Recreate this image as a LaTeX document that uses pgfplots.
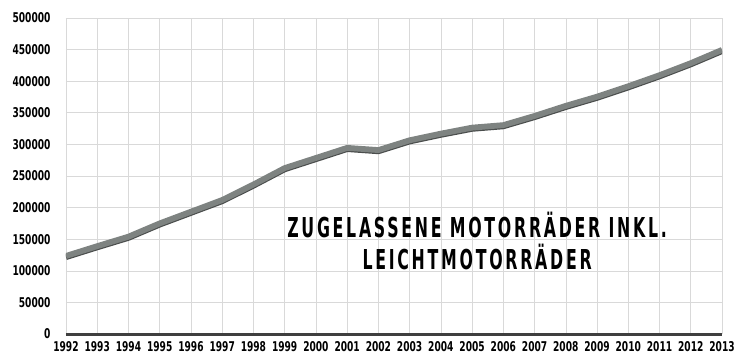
\documentclass[border=0pt]{standalone}
\usepackage{pgfplots}
\pgfplotsset{compat=1.18}
\usepackage{fontspec}
\usetikzlibrary{calc}
\setmainfont{DejaVu Sans Condensed}
\newfontfamily\tickfont[FakeStretch=0.75]{DejaVu Sans Condensed Bold}
\newfontfamily\titlefont[FakeStretch=0.64,LetterSpace=10]{DejaVu Sans Condensed Bold}
\definecolor{linegray}{HTML}{7E8381}
\definecolor{shadowgray}{HTML}{4A4D4C}
\definecolor{gridgray}{HTML}{D9D9D9}
\definecolor{axisgray}{HTML}{3F3F3F}
\begin{document}
\begin{tikzpicture}
\begin{axis}[
  scale only axis,
  width=656bp, height=316bp,
  xmin=1992, xmax=2013,
  ymin=0, ymax=500000,
  xtick={1992,1993,1994,1995,1996,1997,1998,1999,2000,2001,2002,2003,2004,2005,2006,2007,2008,2009,2010,2011,2012,2013},
  xticklabels={1992,1993,1994,1995,1996,1997,1998,1999,2000,2001,2002,2003,2004,2005,2006,2007,2008,2009,2010,2011,2012,2013},
  ytick={0,50000,100000,150000,200000,250000,300000,350000,400000,450000,500000},
  yticklabels={0,50000,100000,150000,200000,250000,300000,350000,400000,450000,500000},
  grid=major,
  major grid style={gridgray, line width=0.6bp},
  axis x line=bottom,
  axis y line=left,
  y axis line style={draw=none},
  x axis line style={axisgray, line width=3bp, -},
  major tick length=0pt,
  scaled y ticks=false,
  xticklabel style={font=\tickfont\fontsize{13.5}{13.5}\selectfont, yshift=-4bp},
  yticklabel style={font=\tickfont\fontsize{13.5}{13.5}\selectfont, xshift=-12bp},
]
\addplot[shadowgray, line width=5.8bp, yshift=-1.2bp, line join=round] coordinates {
(1992,123500) (1993,139000) (1994,154000) (1995,175000) (1996,193500) (1997,212000)
(1998,236500) (1999,262500) (2000,278500) (2001,294500) (2002,291000) (2003,306500)
(2004,317000) (2005,326500) (2006,330500) (2007,345000) (2008,361000) (2009,375500)
(2010,392000) (2011,409500) (2012,428500) (2013,449500)};
\addplot[linegray, line width=5.8bp, line join=round] coordinates {
(1992,123500) (1993,139000) (1994,154000) (1995,175000) (1996,193500) (1997,212000)
(1998,236500) (1999,262500) (2000,278500) (2001,294500) (2002,291000) (2003,306500)
(2004,317000) (2005,326500) (2006,330500) (2007,345000) (2008,361000) (2009,375500)
(2010,392000) (2011,409500) (2012,428500) (2013,449500)};
\node[align=center, font=\titlefont\fontsize{27.5}{32}\selectfont, anchor=center] at (axis cs:2005.16,146700) {ZUGELASSENE MOTORRÄDER INKL.\\LEICHTMOTORRÄDER};
\coordinate (bl) at (rel axis cs:0,0);
\coordinate (tr) at (rel axis cs:1,1);
\end{axis}
\pgfresetboundingbox
\path[use as bounding box] ($(bl)+(-66bp,-25bp)$) rectangle ($(tr)+(21bp,18bp)$);
\end{tikzpicture}
\end{document}
